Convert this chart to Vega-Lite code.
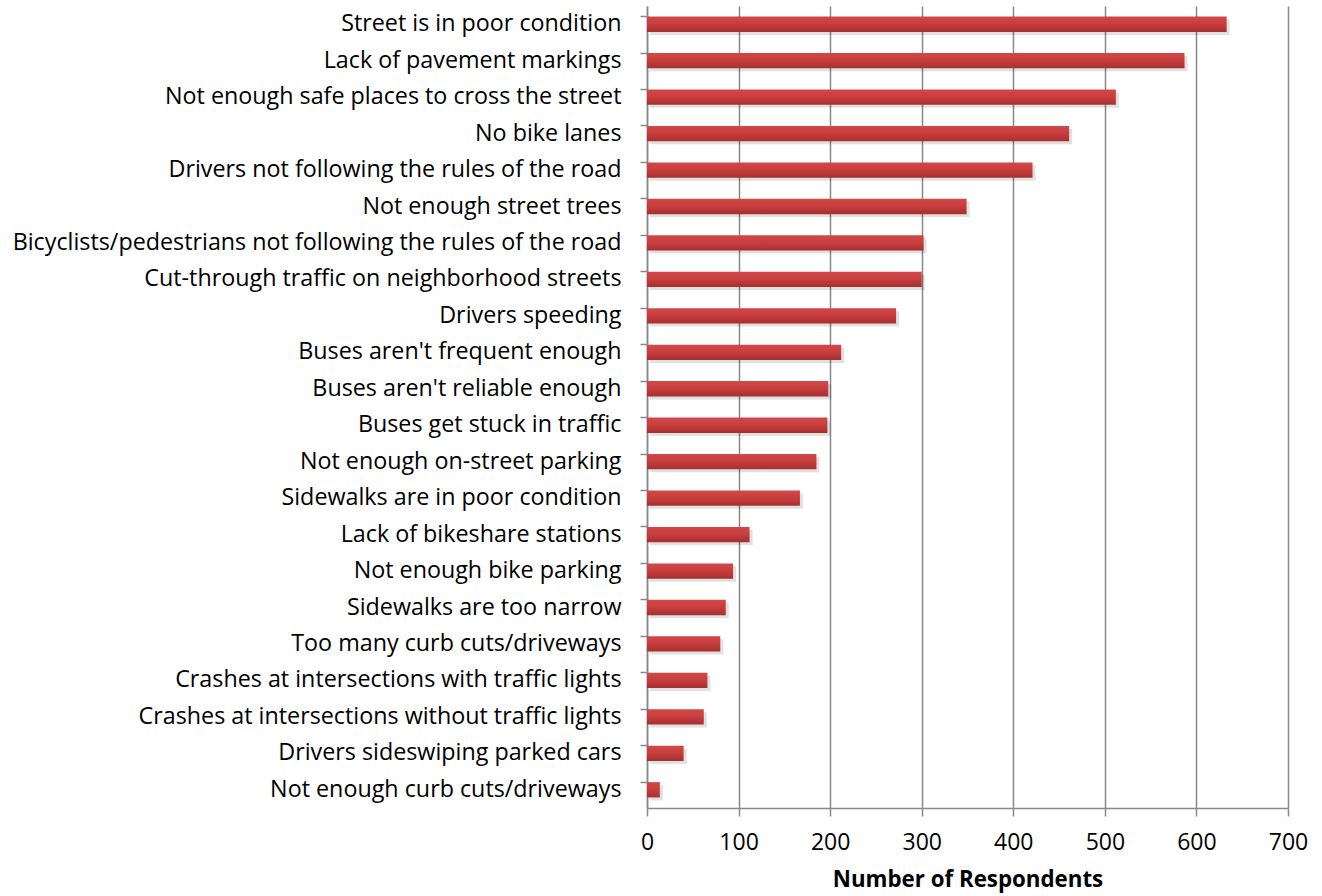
{
  "$schema": "https://vega.github.io/schema/vega-lite/v6.json",
  "width": 641,
  "height": 802,
  "autosize": "none",
  "padding": {"left": 647, "top": 6, "right": 34, "bottom": 88},
  "background": "white",
  "data": {
    "values": [
      {"issue": "Street is in poor condition", "count": 633},
      {"issue": "Lack of pavement markings", "count": 587},
      {"issue": "Not enough safe places to cross the street", "count": 512},
      {"issue": "No bike lanes", "count": 461},
      {"issue": "Drivers not following the rules of the road", "count": 421},
      {"issue": "Not enough street trees", "count": 349},
      {"issue": "Bicyclists/pedestrians not following the rules of the road", "count": 302},
      {"issue": "Cut-through traffic on neighborhood streets", "count": 300},
      {"issue": "Drivers speeding", "count": 272},
      {"issue": "Buses aren't frequent enough", "count": 212},
      {"issue": "Buses aren't reliable enough", "count": 198},
      {"issue": "Buses get stuck in traffic", "count": 197},
      {"issue": "Not enough on-street parking", "count": 185},
      {"issue": "Sidewalks are in poor condition", "count": 167},
      {"issue": "Lack of bikeshare stations", "count": 112},
      {"issue": "Not enough bike parking", "count": 94},
      {"issue": "Sidewalks are too narrow", "count": 86},
      {"issue": "Too many curb cuts/driveways", "count": 80},
      {"issue": "Crashes at intersections with traffic lights", "count": 66},
      {"issue": "Crashes at  intersections without traffic lights", "count": 62},
      {"issue": "Drivers sideswiping parked cars", "count": 40},
      {"issue": "Not enough curb cuts/driveways", "count": 14}
    ]
  },
  "encoding": {
    "y": {
      "field": "issue",
      "type": "nominal",
      "sort": null,
      "scale": {"paddingInner": 0.58, "paddingOuter": 0.29},
      "axis": {
        "title": null,
        "bandPosition": 0,
        "domainColor": "#888888",
        "domainWidth": 1.5,
        "tickColor": "#888888",
        "tickWidth": 1.5,
        "tickSize": 7,
        "labelFont": "Open Sans",
        "labelFontSize": 23.3,
        "labelColor": "#000000",
        "labelPadding": 19,
        "labelLimit": 700
      }
    },
    "x": {
      "field": "count",
      "type": "quantitative",
      "scale": {"domain": [0, 700], "nice": false},
      "axis": {
        "values": [0, 100, 200, 300, 400, 500, 600, 700],
        "title": "Number of Respondents",
        "titleFont": "Open Sans",
        "titleFontSize": 22.3,
        "titleFontWeight": "bold",
        "titleColor": "#000000",
        "titlePadding": 14,
        "grid": true,
        "gridColor": "#888888",
        "gridWidth": 1.5,
        "domainColor": "#888888",
        "domainWidth": 1.5,
        "tickColor": "#888888",
        "tickWidth": 1.5,
        "tickSize": 8,
        "labelFont": "Open Sans",
        "labelFontSize": 23,
        "labelColor": "#000000",
        "labelPadding": 15,
        "labelFlush": false,
        "labelOverlap": false
      }
    }
  },
  "layer": [
    {
      "mark": {"type": "bar", "color": "#000000", "opacity": 0.12, "yOffset": 3, "x2Offset": 0, "xOffset": 3}
    },
    {
      "mark": {
        "type": "bar",
        "color": {
          "gradient": "linear",
          "x1": 0, "y1": 0, "x2": 0, "y2": 1,
          "stops": [
            {"offset": 0, "color": "#d24848"},
            {"offset": 0.5, "color": "#c83d3d"},
            {"offset": 1, "color": "#a52f2f"}
          ]
        }
      }
    }
  ],
  "config": {"view": {"stroke": null}}
}
